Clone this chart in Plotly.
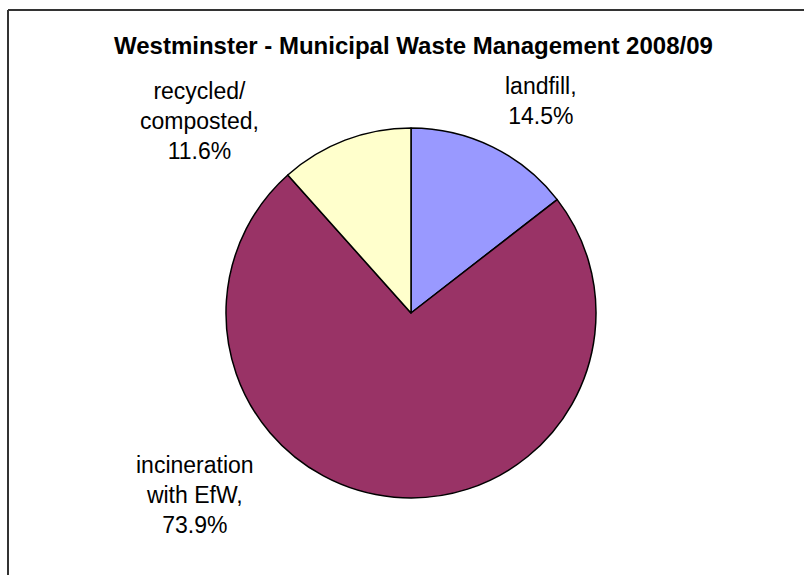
import plotly.graph_objects as go

# Municipal waste management, Westminster 2008/09 (share of tonnage, %)
categories = ["landfill", "incineration with EfW", "recycled/ composted"]
label_lines = [["landfill,"], ["incineration", "with EfW,"], ["recycled/", "composted,"]]
values = [14.5, 73.9, 11.6]
colors = ["#9999FF", "#993366", "#FFFFCC"]

W, H = 804, 575


def px_x(x):
    return x / W


def px_y(y):
    return 1 - y / H


# pie geometry in pixels
cx, cy, r = 411, 313, 185

fig = go.Figure(
    go.Pie(
        labels=categories,
        values=values,
        sort=False,
        direction="clockwise",
        rotation=0,
        textinfo="none",
        hoverinfo="label+percent",
        marker=dict(colors=colors, line=dict(color="#000000", width=1.5)),
        domain=dict(x=[px_x(cx - r), px_x(cx + r)], y=[px_y(cy + r), px_y(cy - r)]),
        showlegend=False,
    )
)

total = sum(values)
label_pos = [(541, 101), (195, 495), (199, 121)]
annotations = []
for lines, v, (lx, ly) in zip(label_lines, values, label_pos):
    pct = f"{100 * v / total:.1f}%"
    annotations.append(
        dict(
            text="<br>".join(lines + [pct]),
            x=px_x(lx), y=px_y(ly), xref="paper", yref="paper",
            xanchor="center", yanchor="middle", showarrow=False,
            font=dict(family="Liberation Sans, Arial, sans-serif", size=23, color="#000000"),
            align="center",
        )
    )

annotations.append(
    dict(
        text="<b>Westminster - Municipal Waste Management 2008/09</b>",
        x=px_x(413), y=px_y(46), xref="paper", yref="paper",
        xanchor="center", yanchor="middle", showarrow=False,
        font=dict(family="Liberation Sans, Arial, sans-serif", size=24, color="#000000"),
    )
)

fig.update_layout(
    width=W, height=H,
    margin=dict(l=0, r=0, t=0, b=0),
    paper_bgcolor="#FFFFFF",
    plot_bgcolor="#FFFFFF",
    annotations=annotations,
    shapes=[
        dict(type="line", xref="paper", yref="paper",
             x0=px_x(8), y0=px_y(10), x1=px_x(8), y1=px_y(H + 10),
             line=dict(color="#333333", width=2)),
        dict(type="line", xref="paper", yref="paper",
             x0=px_x(8), y0=px_y(10), x1=px_x(W + 10), y1=px_y(10),
             line=dict(color="#333333", width=2)),
    ],
)

fig.write_html("out.html")
